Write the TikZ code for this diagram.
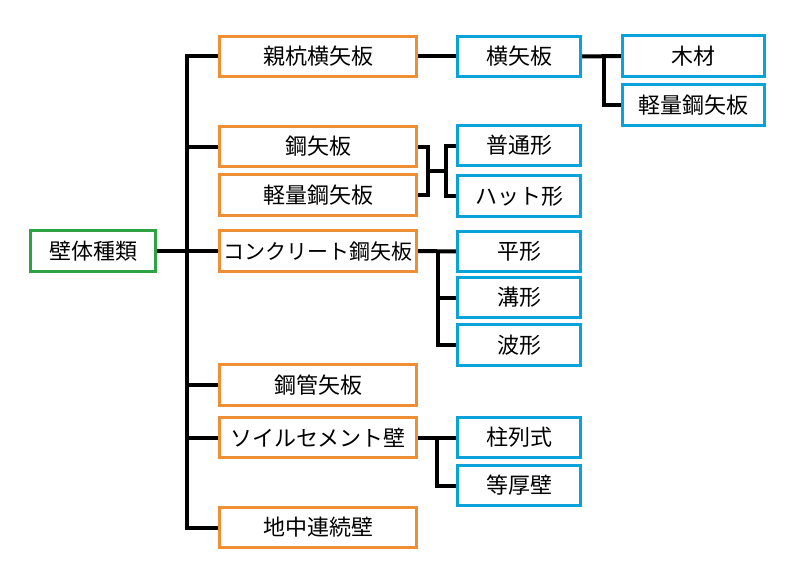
\documentclass[tikz,border=0pt]{standalone}
\usepackage{fontspec}
\setmainfont{Noto Sans CJK JP}
\definecolor{borange}{HTML}{EE8E35}
\definecolor{bblue}{HTML}{0AA3D9}
\definecolor{bgreen}{HTML}{2FA344}
\tikzset{
  box/.style={draw, line width=3.2pt, fill=white, minimum height=40.5pt, inner sep=0pt, font=\fontsize{22}{25}\selectfont, text=black},
  rootbox/.style={box, draw=bgreen, minimum width=124.5pt},
  obox/.style={box, draw=borange, minimum width=197pt},
  bbox/.style={box, draw=bblue, minimum width=123pt},
  cbox/.style={box, draw=bblue, minimum width=142pt},
  conn/.style={draw=black, line width=4pt, line join=miter},
}
\begin{document}
\begin{tikzpicture}[x=1pt,y=-1pt]
\useasboundingbox (0,0) rectangle (800,575);
% nodes
\node[rootbox] (root) at (93,251) {壁体種類};
\node[obox] (oyakui) at (318,56.5) {親杭横矢板};
\node[obox] (kouya) at (318,146.5) {鋼矢板};
\node[obox] (keiryo) at (318,195) {軽量鋼矢板};
\node[obox, font=\fontsize{21}{25}\selectfont] (conc) at (318,251) {コンクリート鋼矢板};
\node[obox] (koukan) at (318,385) {鋼管矢板};
\node[obox] (soil) at (318,437.5) {ソイルセメント壁};
\node[obox] (chichu) at (318,527.5) {地中連続壁};
\node[bbox] (yoko) at (519,56.5) {横矢板};
\node[bbox] (futsu) at (519,145.5) {普通形};
\node[bbox] (hat) at (519,196) {ハット形};
\node[bbox] (hira) at (519,251.5) {平形};
\node[bbox] (mizo) at (519,297.5) {溝形};
\node[bbox] (nami) at (519,345) {波形};
\node[bbox] (chu) at (519,437.5) {柱列式};
\node[bbox] (toko) at (519,485.5) {等厚壁};
\node[cbox] (mokuzai) at (693.5,56) {木材};
\node[cbox] (keiryo2) at (693.5,105) {軽量鋼矢板};
% trunk
\coordinate (trunk) at (187,0);
\draw[conn] (oyakui.west) -- (oyakui.west -| trunk) -- (chichu.west -| trunk) -- (chichu.west);
\draw[conn] (root.east) -- (root.east -| trunk);
\draw[conn] (kouya.west) -- (kouya.west -| trunk);
\draw[conn] (conc.west) -- (conc.west -| trunk);
\draw[conn] (koukan.west) -- (koukan.west -| trunk);
\draw[conn] (soil.west) -- (soil.west -| trunk);
% oyakui -> yoko
\draw[conn] (oyakui.east) -- (yoko.west);
% yoko -> mokuzai / keiryo2
\coordinate (y1) at (604,0);
\draw[conn] (yoko.east) -- (mokuzai.west);
\draw[conn] (yoko.east -| y1) -- (keiryo2.west -| y1) -- (keiryo2.west);
% H connector
\coordinate (h1) at (428,0);
\coordinate (h2) at (446,0);
\coordinate (hm) at (0,171);
\draw[conn] (kouya.east) -- (kouya.east -| h1) -- (keiryo.east -| h1) -- (keiryo.east);
\draw[conn] (futsu.west) -- (futsu.west -| h2) -- (hat.west -| h2) -- (hat.west);
\draw[conn] (hm -| h1) -- (hm -| h2);
% conc -> hira, mizo, nami
\coordinate (c1) at (438,0);
\draw[conn] (conc.east) -- (hira.west);
\draw[conn] (conc.east -| c1) -- (nami.west -| c1) -- (nami.west);
\draw[conn] (mizo.west -| c1) -- (mizo.west);
% soil -> chu, toko
\coordinate (s1) at (437,0);
\draw[conn] (soil.east) -- (chu.west);
\draw[conn] (soil.east -| s1) -- (toko.west -| s1) -- (toko.west);
\end{tikzpicture}
\end{document}
